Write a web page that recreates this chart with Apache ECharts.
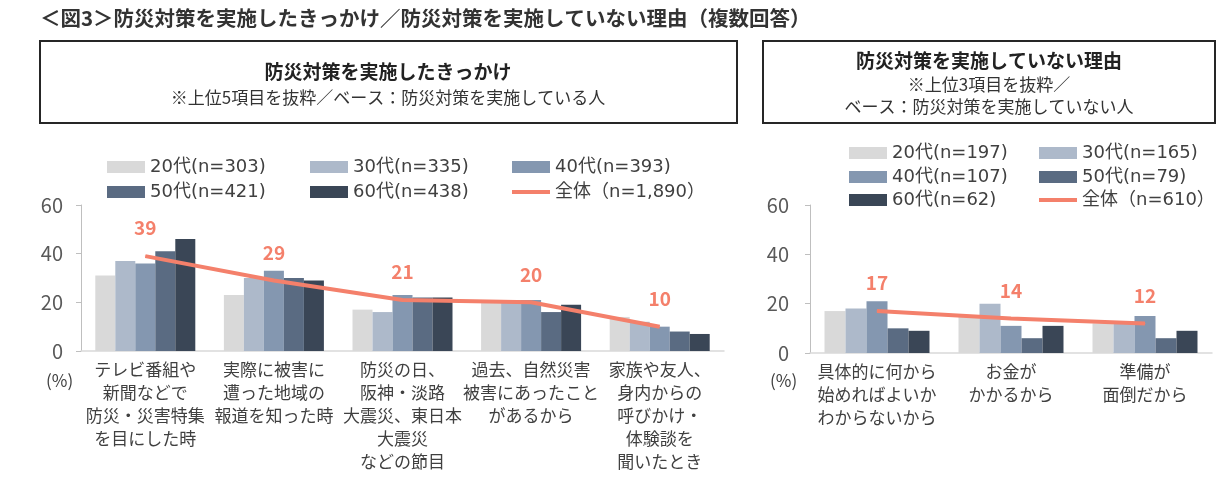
<!DOCTYPE html>
<html style="height: 100%">
<head>
<meta charset="utf-8" />
<title>防災対策</title>
<script type="text/javascript" src="https://cdn.jsdelivr.net/npm/echarts@6/dist/echarts.min.js"></script>
</head>
<body style="height: 100%; margin: 0; background: #fff;">
<div id="container" style="width: 1222px; height: 491px;"></div>
<script type="text/javascript">
// 防災対策を実施したきっかけ（上位5項目）
var leftCats = [
    'テレビ番組や\n新聞などで\n防災・災害特集\nを目にした時',
    '実際に被害に\n遭った地域の\n報道を知った時',
    '防災の日、\n阪神・淡路\n大震災、東日本\n大震災\nなどの節目',
    '過去、自然災害\n被害にあったこと\nがあるから',
    '家族や友人、\n身内からの\n呼びかけ・\n体験談を\n聞いたとき'
];
var leftNames = ['20代(n=303)', '30代(n=335)', '40代(n=393)', '50代(n=421)', '60代(n=438)', '全体（n=1,890）'];
var left20 = [31, 23, 17, 21, 14];
var left30 = [37, 30, 16, 21, 12];
var left40 = [36, 33, 23, 21, 10];
var left50 = [41, 30, 22, 16, 8];
var left60 = [46, 29, 22, 19, 7];
var leftAll = [39, 29, 21, 20, 10];

// 防災対策を実施していない理由（上位3項目）
var rightCats = [
    '具体的に何から\n始めればよいか\nわからないから',
    'お金が\nかかるから',
    '準備が\n面倒だから'
];
var rightNames = ['20代(n=197)', '30代(n=165)', '40代(n=107)', '50代(n=79)', '60代(n=62)', '全体（n=610）'];
var right20 = [17, 15, 12];
var right30 = [18, 20, 12];
var right40 = [21, 11, 15];
var right50 = [10, 6, 6];
var right60 = [9, 11, 9];
var rightAll = [17, 14, 12];

var yTicks = [0, 20, 40, 60];

var barColors = ['#d9d9d9', '#adb9ca', '#8497b0', '#5a6b82', '#3a4656'];
var lineColor = '#f4806b';
var font = "'Noto Sans CJK JP', 'Noto Sans', sans-serif";
var wideFont = "'DejaVu Sans', 'Noto Sans CJK JP', sans-serif";
var textColor = '#404040';

var myChart = echarts.init(document.getElementById('container'));

function barSeries(name, data, idx, axis, width) {
    return {
        name: name,
        type: 'bar',
        xAxisIndex: axis,
        yAxisIndex: axis,
        data: data,
        barWidth: width,
        barGap: '0%',
        itemStyle: { color: barColors[idx] }
    };
}

function lineSeries(name, data, axis) {
    return {
        name: name,
        type: 'line',
        xAxisIndex: axis,
        yAxisIndex: axis,
        data: data,
        symbol: 'circle',
        symbolSize: 1,
        showAllSymbol: true,
        z: 5,
        lineStyle: { color: lineColor, width: 4 },
        itemStyle: { color: lineColor },
        label: {
            show: true,
            position: 'top',
            distance: 18,
            color: lineColor,
            fontSize: 19,
            fontWeight: 'bold',
            fontFamily: font
        }
    };
}

function yAxis(grid, margin) {
    return {
        type: 'value',
        gridIndex: grid,
        min: 0,
        max: 60,
        interval: 20,
        axisLine: { show: true, lineStyle: { color: '#bfbfbf' } },
        axisTick: { show: true, length: 5, lineStyle: { color: '#bfbfbf' } },
        splitLine: { show: false },
        axisLabel: {
            color: '#595959', fontSize: 20, fontFamily: font, margin: margin,
            formatter: function (v) { return yTicks.indexOf(v) >= 0 ? String(v) : ''; }
        }
    };
}

function xAxis(grid, cats) {
    return {
        type: 'category',
        gridIndex: grid,
        data: cats,
        axisLine: { show: true, lineStyle: { color: '#d9d9d9', width: 1.5 } },
        axisTick: { show: false },
        axisLabel: {
            interval: 0, color: textColor, fontSize: 17, lineHeight: 23,
            fontFamily: font, margin: 7
        }
    };
}

// 凡例の配置
var legendSpots = [
    [leftNames[0], 107, 168], [leftNames[1], 310, 168], [leftNames[2], 512, 168],
    [leftNames[3], 107, 193], [leftNames[4], 310, 193], [leftNames[5], 512, 193],
    [rightNames[0], 849, 154], [rightNames[1], 1039, 154],
    [rightNames[2], 849, 178], [rightNames[3], 1039, 178],
    [rightNames[4], 849, 201], [rightNames[5], 1039, 201]
];
var legends = legendSpots.map(function (s) {
    var isLine = s[0].indexOf('全体') === 0;
    var h = isLine ? 4 : 12;
    return {
        data: [s[0]],
        left: s[1],
        top: s[2] - 10,
        padding: 0,
        icon: 'rect',
        itemWidth: 38,
        itemHeight: h,
        itemGap: 4,
        selectedMode: false,
        textStyle: { color: textColor, fontSize: 18, fontFamily: wideFont }
    };
});

var option = {
    animation: false,
    textStyle: { fontFamily: font },
    legend: legends,
    grid: [
        { left: 81, top: 205, width: 643, height: 146 },
        { left: 810, top: 205, width: 402, height: 148 }
    ],
    xAxis: [xAxis(0, leftCats), xAxis(1, rightCats)],
    yAxis: [yAxis(0, 18), yAxis(1, 21)],
    graphic: [
        {
            type: 'text', left: 40, top: 8,
            style: { text: '＜図3＞防災対策を実施したきっかけ／防災対策を実施していない理由（複数回答）', fill: '#333', font: 'bold 20.5px ' + font }
        },
        {
            type: 'rect', shape: { x: 40, y: 41, width: 697, height: 82 },
            style: { fill: '#fff', stroke: '#262626', lineWidth: 2 }
        },
        {
            type: 'text', x: 388, y: 72,
            style: { text: '防災対策を実施したきっかけ', fill: '#222', font: 'bold 19px ' + font, align: 'center', verticalAlign: 'middle' }
        },
        {
            type: 'text', x: 388, y: 98,
            style: { text: '※上位5項目を抜粋／ベース：防災対策を実施している人', fill: '#333', font: '17px ' + font, align: 'center', verticalAlign: 'middle' }
        },
        {
            type: 'rect', shape: { x: 763, y: 41, width: 452, height: 82 },
            style: { fill: '#fff', stroke: '#262626', lineWidth: 2 }
        },
        {
            type: 'text', x: 989, y: 61,
            style: { text: '防災対策を実施していない理由', fill: '#222', font: 'bold 19px ' + font, align: 'center', verticalAlign: 'middle' }
        },
        {
            type: 'text', x: 989, y: 85,
            style: { text: '※上位3項目を抜粋／', fill: '#333', font: '17px ' + font, align: 'center', verticalAlign: 'middle' }
        },
        {
            type: 'text', x: 989, y: 107,
            style: { text: 'ベース：防災対策を実施していない人', fill: '#333', font: '17px ' + font, align: 'center', verticalAlign: 'middle' }
        },
        {
            type: 'text', x: 46, y: 381,
            style: { text: '(%)', fill: textColor, font: '17px ' + font, verticalAlign: 'middle' }
        },
        {
            type: 'text', x: 770, y: 381,
            style: { text: '(%)', fill: textColor, font: '17px ' + font, verticalAlign: 'middle' }
        }
    ],
    series: [
        barSeries(leftNames[0], left20, 0, 0, 20),
        barSeries(leftNames[1], left30, 1, 0, 20),
        barSeries(leftNames[2], left40, 2, 0, 20),
        barSeries(leftNames[3], left50, 3, 0, 20),
        barSeries(leftNames[4], left60, 4, 0, 20),
        lineSeries(leftNames[5], leftAll, 0),
        barSeries(rightNames[0], right20, 0, 1, 21),
        barSeries(rightNames[1], right30, 1, 1, 21),
        barSeries(rightNames[2], right40, 2, 1, 21),
        barSeries(rightNames[3], right50, 3, 1, 21),
        barSeries(rightNames[4], right60, 4, 1, 21),
        lineSeries(rightNames[5], rightAll, 1)
    ]
};

myChart.setOption(option);
</script>
</body>
</html>
